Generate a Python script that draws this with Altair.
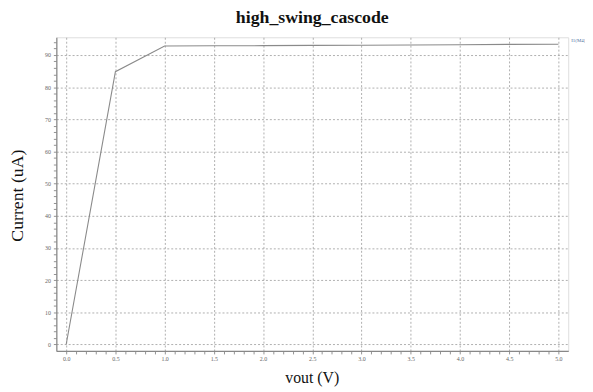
import altair as alt
import pandas as pd

vout = [0.0, 0.5, 1.0, 1.5, 2.0, 2.5, 3.0, 3.5, 4.0, 4.5, 5.0]
current = [0.0, 84.8, 92.8, 92.85, 92.9, 93.0, 93.05, 93.1, 93.2, 93.3, 93.35]

x_ticks = [round(i * 0.1, 1) for i in range(0, 51)]
y_ticks = list(range(0, 96, 2))

df = pd.DataFrame({"vout": vout, "current": current})
legend_df = pd.DataFrame({"label": ["I1(M4)"]})

W, H = 519, 318

x_axis = alt.Axis(
    values=x_ticks,
    labelExpr="(round(datum.value*10) % 5 == 0) ? format(datum.value, '.1f') : ''",
    gridOpacity=alt.ExprRef("(round(datum.value*10) % 5 == 0) ? 1 : 0"),
    grid=True, gridColor="#9a9a9a", gridDash=[2, 2], gridWidth=0.8,
    tickSize=3, tickColor="#777", tickWidth=0.8,
    labelFontSize=6, labelColor="#666", labelFont="Liberation Serif", labelPadding=2,
    domainColor="#888", domainWidth=1.2,
    title="vout (V)", titleFont="Liberation Serif", titleFontSize=16, titleFontWeight="normal",
    titleColor="#111", titleX=259, titleY=27, titleBaseline="middle", titleAnchor="middle",
)

y_axis = alt.Axis(
    values=y_ticks,
    labelExpr="(datum.value % 10 == 0) ? format(datum.value, 'd') : ''",
    gridOpacity=alt.ExprRef("(datum.value % 10 == 0) ? 1 : 0"),
    grid=True, gridColor="#9a9a9a", gridDash=[2, 2], gridWidth=0.8,
    tickSize=3, tickColor="#777", tickWidth=0.8,
    labelFontSize=6, labelColor="#666", labelFont="Liberation Serif", labelPadding=3,
    domainColor="#888", domainWidth=1.2,
    title="Current (uA)", titleFont="Liberation Serif", titleFontSize=18, titleFontWeight="normal",
    titleColor="#111", titleX=-39, titleY=160, titleAngle=-90, titleBaseline="middle",
    titleAnchor="middle",
)

line = alt.Chart(df).mark_line(color="#8a8a8a", strokeWidth=1.1).encode(
    x=alt.X("vout:Q", scale=alt.Scale(domain=[-0.1, 5.1], nice=False, zero=False), axis=x_axis),
    y=alt.Y("current:Q", scale=alt.Scale(domain=[-2, 95.5], nice=False, zero=False), axis=y_axis),
)

legend = alt.Chart(legend_df).mark_text(
    fontSize=5, color="#4a6fa0", align="left", baseline="middle", font="Liberation Serif"
).encode(x=alt.value(W + 3), y=alt.value(3), text="label:N")

chart = alt.layer(line, legend).properties(
    width=W, height=H,
    title=alt.TitleParams(
        "high_swing_cascode", font="Liberation Serif", fontSize=18, fontWeight="bold",
        color="#111", anchor="middle", offset=10,
    ),
    autosize=alt.AutoSizeParams(type="none"),
    padding={"left": 49, "top": 27, "right": 17, "bottom": 45},
).configure_view(stroke="#999", strokeWidth=1.2).configure(background="white")

chart.save("out.html", embed_options={"renderer": "svg", "actions": False})
